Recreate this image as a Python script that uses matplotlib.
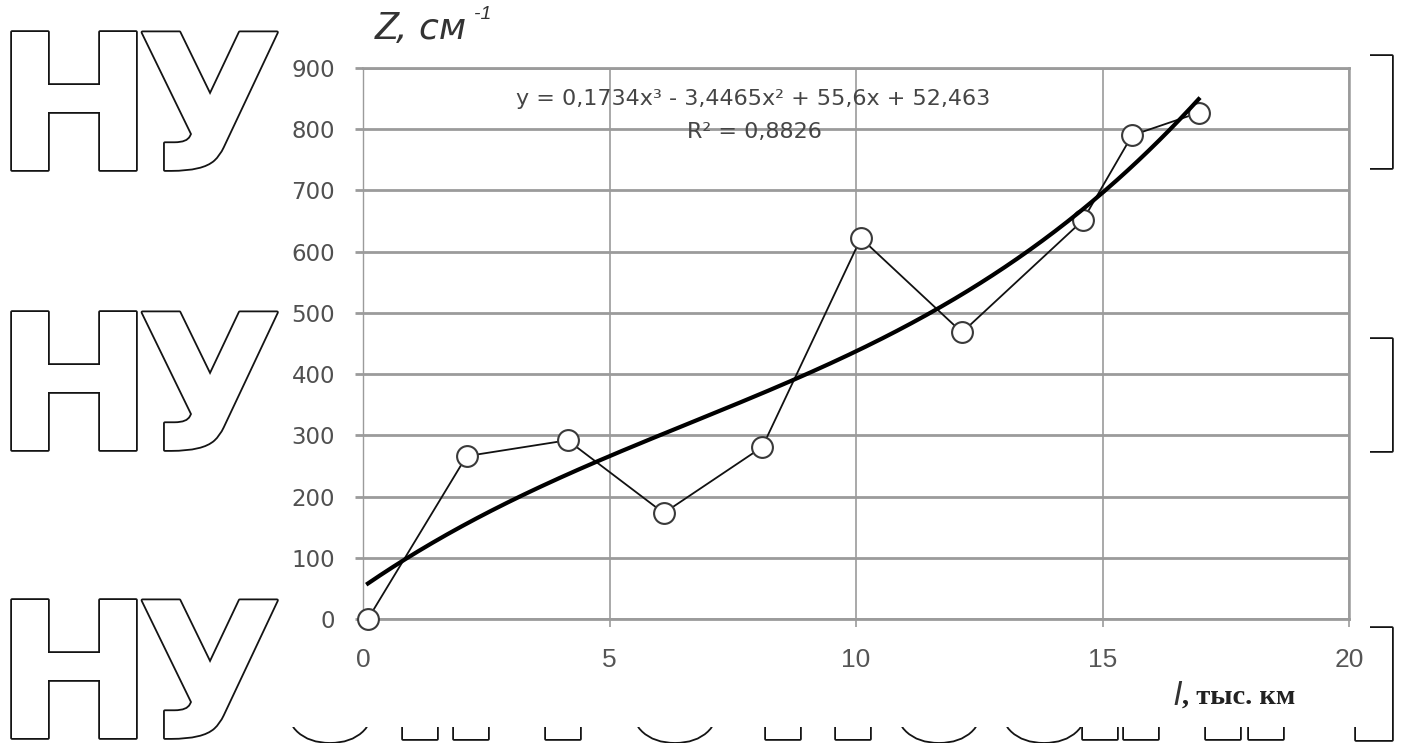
import numpy as np
import matplotlib
matplotlib.use("Agg")
import matplotlib.pyplot as plt
import matplotlib.transforms as mtransforms
import matplotlib.patheffects as pe
from matplotlib.patches import Rectangle

# Measured samples: distance (thousand km) and Z (1/cm)
distance = [0.1, 2.1, 4.15, 6.1, 8.1, 10.1, 12.15, 14.6, 15.6, 16.95]
z_values = [0, 266, 292, 173, 281, 622, 468, 651, 790, 827]

# Cubic trend, highest power first
trend_coeffs = [0.1734, -3.4465, 55.6, 52.463]
r_squared = 0.8826

x_ticks = [0, 5, 10, 15, 20]
y_ticks = [0, 100, 200, 300, 400, 500, 600, 700, 800, 900]

W, H = 1405, 743
DPI = 100


def dec(v):
    return str(v).replace('.', ',')


fig = plt.figure(figsize=(W / DPI, H / DPI), dpi=DPI)
fig.patch.set_facecolor('white')

# pixel coordinates measured from the top-left corner
px = mtransforms.Affine2D().scale(1, -1).translate(0, H)

outline_fx = [pe.Stroke(linewidth=2.6, foreground='#141414', joinstyle='round'),
              pe.Normal()]


def outline_text(x, y, s, ha='left', size=136):
    fig.text(x, y, s, transform=px, ha=ha, va='baseline', fontsize=size,
             fontweight='bold', family='DejaVu Sans', color='white',
             path_effects=outline_fx, zorder=1)


# large outlined lettering of the page behind the chart
for b in [170, 450, 738]:
    outline_text(-5, b, 'Н')
    outline_text(137, b, 'У')
for b in [168, 451, 740]:
    outline_text(1409, b, 'ı', ha='right', size=148)
for cx in [420, 471, 563, 783, 853, 1100, 1141, 1223, 1266]:
    outline_text(cx, 739, 'ı', ha='center', size=140)
for cx in [330, 675, 939, 1044]:
    outline_text(cx, 740, 'о', ha='center', size=105)

# white card the chart sits on
fig.add_artist(Rectangle((283, H - 727), 1370 - 283, 727,
                         transform=mtransforms.IdentityTransform(),
                         facecolor='white', edgecolor='none', zorder=2))

ax = fig.add_axes([363 / W, (H - 619) / H, 986 / W, 551 / H], zorder=3)
ax.set_facecolor('white')
ax.set_xlim(0, 20)
ax.set_ylim(0, 900)

grid_c = '#9b9b9b'
ax.set_xticks(x_ticks)
ax.set_yticks(y_ticks)
ax.set_xticklabels([str(t) for t in x_ticks], family='Liberation Sans',
                   fontsize=19, color='#555555')
ax.set_yticklabels([str(t) for t in y_ticks], family='DejaVu Sans',
                   fontsize=16.5, color='#505050')
ax.yaxis.grid(True, color=grid_c, lw=2.0)
ax.xaxis.grid(True, color=grid_c, lw=1.2)
ax.set_axisbelow(True)
for side, lw in [('left', 1.0), ('bottom', 2.0), ('top', 2.0), ('right', 1.8)]:
    ax.spines[side].set_color(grid_c)
    ax.spines[side].set_linewidth(lw)
ax.tick_params(axis='y', length=6, width=2.0, color=grid_c, pad=14)
ax.tick_params(axis='x', length=6, width=1.2, color=grid_c, pad=15)

# measured series
ax.plot(distance, z_values, color='#111111', lw=1.3, marker='o', ms=15,
        mfc='white', mec='#3a3a3a', mew=1.5, zorder=4, clip_on=False)

# polynomial trend over the data range
xs = np.linspace(distance[0], distance[-1], 400)
ax.plot(xs, np.polyval(trend_coeffs, xs), color='black', lw=3.0, zorder=5)

c3, c2, c1, c0 = trend_coeffs
eq = f"y = {dec(c3)}x³ - {dec(-c2)}x² + {dec(c1)}x + {dec(c0)}"
fig.text(753, 105, eq, transform=px, ha='center', va='baseline',
         fontsize=16, color='#454545', family='DejaVu Sans', zorder=6)
fig.text(754, 138, f"R² = {dec(r_squared)}", transform=px, ha='center',
         va='baseline', fontsize=16, color='#454545', family='DejaVu Sans',
         zorder=6)

# axis titles
fig.text(375, 39, 'Z', transform=px, ha='left', va='baseline', fontsize=28,
         family='Liberation Sans', style='italic', color='#333333', zorder=6)
fig.text(396, 39, ', см', transform=px, ha='left', va='baseline',
         fontsize=26, family='DejaVu Sans', style='italic', color='#333333',
         zorder=6)
fig.text(474, 19, '-1', transform=px, ha='left', va='baseline', fontsize=14,
         family='Liberation Sans', style='italic', color='#333333', zorder=6)

fig.text(1173, 705, 'l', transform=px, ha='left', va='baseline', fontsize=24,
         family='Liberation Sans', style='italic', color='#333333', zorder=6)
fig.text(1182, 704, ', тыс. км', transform=px, ha='left', va='baseline',
         fontsize=20.5, family='Liberation Serif', fontweight='bold',
         color='#222222', zorder=6)

fig.savefig('out.png', dpi=DPI, facecolor='white')
